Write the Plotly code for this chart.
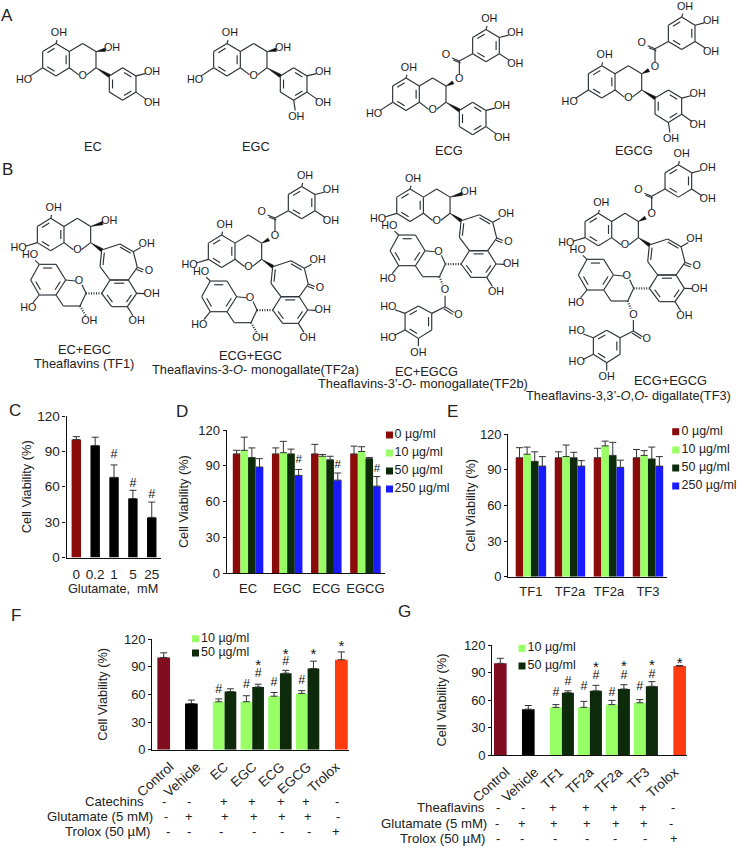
import plotly.graph_objects as go

W, H = 738, 847
FONT = "Liberation Sans, Arial, sans-serif"
INK = "#222222"
RED, LIGHT, DARK, BLUE = "#8b0a0a", "#99ff66", "#0d2b0a", "#1a1aff"
MAROON, ORANGE = "#800d20", "#ff3b0f"

# ---------- data ----------
C_LABELS = ["0", "0.2", "1", "5", "25"]
C_VALUES = [100, 95, 68, 50, 34]
C_ERR = [2.5, 7, 10.5, 7, 13]
C_MARK_X = [2, 3, 4]
C_MARK_Y = [87, 62.3, 53]

CONC = ["0 µg/ml", "10 µg/ml", "50 µg/ml", "250 µg/ml"]
D_LABELS = ["EC", "EGC", "ECG", "EGCG"]
D_VALUES = [[100, 100, 100, 100], [103, 101, 98, 102], [97, 100, 95, 96], [89, 82, 78, 73]]
D_ERR = [[3, 5, 8, 6.5], [11, 9.5, 1.5, 4], [8, 4, 3, 1], [7, 5, 6, 8]]
D_MARK_GROUP = [1, 2, 3]
D_MARK_Y = [95, 90.5, 87.4]

E_LABELS = ["TF1", "TF2a", "TF2a", "TF3"]
E_VALUES = [[100, 100, 100, 100], [103, 101, 110, 102], [97, 100, 102, 99], [93, 93, 92, 93]]
E_ERR = [[8.5, 5, 8, 7], [6, 9.7, 4, 4], [8, 4.6, 11, 10], [8, 4.6, 6, 8]]

F_LABELS = ["Control", "Vehicle", "EC", "EGC", "ECG", "EGCG", "Trolox"]
F_SLOTS = [0, 1, 2.2, 3.2, 4.2, 5.2, 6.42]
F_LABEL_SLOTS = [0.23, 1.2, 2.2, 3.23, 4.23, 5.2, 6.23]
F_SINGLE = [100, 50, 97.5]
F_SINGLE_ERR = [5, 3.8, 8.5]
F_10 = [52, 52, 58, 61]
F_10_ERR = [3, 6.5, 4, 3]
F_50 = [63, 68, 83, 88]
F_50_ERR = [3, 3, 3, 8]

G_LABELS = ["Control", "Vehicle", "TF1", "TF2a", "TF2a", "TF3", "Trolox"]
G_SLOTS = [0, 1, 2.2, 3.2, 4.2, 5.2, 6.407]
G_LABEL_SLOTS = [0.2, 1.23, 2.12, 3.2, 4.23, 5.2, 6.23]
G_SINGLE = [100, 50, 97]
G_SINGLE_ERR = [5.5, 4, 0.5]
G_10 = [52, 52, 55, 57]
G_10_ERR = [3, 6.5, 4.6, 3.4]
G_50 = [68, 70, 72, 75]
G_50_ERR = [2, 6, 4.7, 5]

F_ROWS = ["Catechins", "Glutamate (5 mM)", "Trolox (50 µM)"]
G_ROWS = ["Theaflavins", "Glutamate (5 mM)", "Trolox (50 µM)"]
SIGNS = [list("--++++-"), list("-+++++-"), list("------+")]

fig = go.Figure()
layout_axes = {}


def panel(n, left, right, top, bottom, xrange, tickvals, ticktext, title, tickangle=0, ticklen=3,
          standoff=4, ysize=13, xsize=13):
    sfx = "" if n == 1 else str(n)
    layout_axes["xaxis" + sfx] = dict(
        domain=[left / W, right / W], range=xrange, anchor="y" + sfx, showgrid=False, zeroline=False,
        showline=True, linecolor="#111111", linewidth=1.2, tickvals=tickvals, ticktext=ticktext,
        tickangle=tickangle, ticks="outside", ticklen=ticklen, tickcolor="rgba(0,0,0,0)", automargin=False,
        tickfont=dict(size=xsize, family=FONT, color=INK))
    layout_axes["yaxis" + sfx] = dict(
        domain=[1 - bottom / H, 1 - top / H], range=[0, 120], anchor="x" + sfx, showgrid=False,
        zeroline=False, showline=True, linecolor="#111111", linewidth=1.2, tickvals=[0, 30, 60, 90, 120],
        ticks="outside", ticklen=3, tickcolor="#111111", tickfont=dict(size=ysize, family=FONT, color=INK),
        automargin=False, title=dict(text=title, font=dict(size=12.8, family=FONT, color=INK), standoff=standoff))
    return ("x" + sfx, "y" + sfx)


def bars(ax, x, y, err, width, color):
    fig.add_trace(go.Bar(
        x=x, y=y, width=width, marker=dict(color=color, line=dict(width=0)), xaxis=ax[0], yaxis=ax[1],
        error_y=dict(type="data", symmetric=False, array=err, arrayminus=[0] * len(y),
                     color="#333333", thickness=1, width=3.5),
        showlegend=False, hoverinfo="skip"))


def marks(ax, x, y, text, size=12.5):
    fig.add_trace(go.Scatter(
        x=x, y=y, mode="text", text=[text] * len(x), textposition="middle center",
        textfont=dict(size=size, family=FONT, color="#111111"), xaxis=ax[0], yaxis=ax[1],
        showlegend=False, hoverinfo="skip", cliponaxis=False))


# Panel C
axC = panel(1, 66.5, 161, 416, 557.5, [-0.52, 4.49], list(range(5)), C_LABELS, "Cell Viability (%)",
            ticklen=4, standoff=2, ysize=13.5, xsize=13.5)
bars(axC, list(range(5)), C_VALUES, C_ERR, 0.5, [RED, "#000000", "#000000", "#000000", "#000000"])
marks(axC, C_MARK_X, C_MARK_Y, "#")

# Panel D, E
COLORS4 = [RED, LIGHT, DARK, BLUE]
W4 = 0.195
axD = panel(2, 226.7, 385, 430, 573.3, [-0.546, 3.5], list(range(4)), D_LABELS, "Cell Viability (%)", standoff=6)
for j in range(4):
    bars(axD, [i + (j - 1.5) * W4 for i in range(4)], D_VALUES[j], D_ERR[j], W4, COLORS4[j])
marks(axD, [g + 1.5 * W4 for g in D_MARK_GROUP], D_MARK_Y, "#", 11.5)

axE = panel(3, 508.3, 666.7, 434, 576.7, [-0.58, 3.48], list(range(4)), E_LABELS, "Cell Viability (%)", standoff=1)
for j in range(4):
    bars(axE, [i + (j - 1.5) * W4 for i in range(4)], E_VALUES[j], E_ERR[j], W4, COLORS4[j])


def treatment(ax, slots, single, single_err, v10, e10, v50, e50, w2, w1, hash_pts, star_pts):
    singles = [slots[0], slots[1], slots[6]]
    bars(ax, singles, single, single_err, w1, [MAROON, "#000000", ORANGE])
    bars(ax, [s - w2 / 2 for s in slots[2:6]], v10, e10, w2, LIGHT)
    bars(ax, [s + w2 / 2 for s in slots[2:6]], v50, e50, w2, DARK)
    marks(ax, hash_pts[0], hash_pts[1], "#")
    marks(ax, star_pts[0], star_pts[1], "*", 15)


axF = panel(4, 152.3, 349.3, 639, 749.7, [-0.412, 6.707], F_LABEL_SLOTS, F_LABELS, "Cell Viability (%)",
            tickangle=-42, ticklen=3, standoff=13, xsize=13.5)
W2F = 0.423
F_HASH_X = [2.2 - W2F / 2, 3.2 - W2F / 2, 4.2 - W2F / 2, 5.2 - W2F / 2, 3.2 + W2F / 2, 4.2 + W2F / 2]
F_HASH_Y = [64.7, 70.8, 72.6, 74.8, 81.7, 95.4]
F_STAR_X = [3.2 + W2F / 2, 4.2 + W2F / 2, 5.2 + W2F / 2, 6.42]
F_STAR_Y = [90.5, 102.5, 102.5, 111]
treatment(axF, F_SLOTS, F_SINGLE, F_SINGLE_ERR, F_10, F_10_ERR, F_50, F_50_ERR, W2F, 0.459,
          (F_HASH_X, F_HASH_Y), (F_STAR_X, F_STAR_Y))

axG = panel(5, 492.3, 687.3, 645, 755, [-0.286, 6.68], G_LABEL_SLOTS, G_LABELS, "Cell Viability (%)",
            tickangle=-42, ticklen=3, standoff=14, xsize=13.5)
W2G = 0.43
G_HASH_X = [2.2 - W2G / 2, 2.2 + W2G / 2, 3.2 - W2G / 2, 3.2 + W2G / 2, 4.2 - W2G / 2, 4.2 + W2G / 2,
            5.2 - W2G / 2, 5.2 + W2G / 2]
G_HASH_Y = [67.3, 79.3, 74.5, 86.2, 67.3, 86.2, 74, 87.3]
G_STAR_X = [3.2 + W2G / 2, 4.2 + W2G / 2, 5.2 + W2G / 2, 6.407]
G_STAR_Y = [95, 95.5, 96.5, 99.5]
treatment(axG, G_SLOTS, G_SINGLE, G_SINGLE_ERR, G_10, G_10_ERR, G_50, G_50_ERR, W2G, 0.452,
          (G_HASH_X, G_HASH_Y), (G_STAR_X, G_STAR_Y))

# ---------- page layer for structures, legends, captions ----------
layout_axes["xaxis9"] = dict(domain=[0, 1], range=[0, W], anchor="y9", visible=False, fixedrange=True)
layout_axes["yaxis9"] = dict(domain=[0, 1], range=[H, 0], anchor="x9", visible=False, fixedrange=True)

bx, by, wx, wy, hx, hy = [], [], [], [], [], []
atom_x, atom_y, atom_t = [], [], []
DX, DY = 13.33, 8.1


def seg(a, b):
    bx.extend([a[0], b[0], None])
    by.extend([a[1], b[1], None])


def trimmed(a, b, t=7.0):
    d = ((b[0] - a[0]) ** 2 + (b[1] - a[1]) ** 2) ** 0.5
    f = max(0, (d - t) / d)
    return (a[0], a[1]), (a[0] + (b[0] - a[0]) * f, a[1] + (b[1] - a[1]) * f)


def sub(a, b, text, kind="plain"):
    p, q = trimmed(a, b)
    atom_x.append(b[0])
    atom_y.append(b[1])
    atom_t.append(text)
    if kind == "plain":
        seg(p, q)
    elif kind == "wedge":
        wedge(p, q)
    else:
        hx.extend([p[0], q[0], None])
        hy.extend([p[1], q[1], None])


def wedge(a, b, w=1.7):
    d = ((b[0] - a[0]) ** 2 + (b[1] - a[1]) ** 2) ** 0.5
    nx, ny = -(b[1] - a[1]) / d * w, (b[0] - a[0]) / d * w
    wx.extend([a[0], b[0] + nx, b[0] - nx, a[0], None])
    wy.extend([a[1], b[1] + ny, b[1] - ny, a[1], None])


def ring(nodes, doubles=()):
    cx = sum(p[0] for p in nodes) / len(nodes)
    cy = sum(p[1] for p in nodes) / len(nodes)
    for i, p in enumerate(nodes):
        q = nodes[(i + 1) % len(nodes)]
        seg(p, q)
        if i in doubles:
            k = 0.76
            p2 = (cx + (p[0] - cx) * k, cy + (p[1] - cy) * k)
            q2 = (cx + (q[0] - cx) * k, cy + (q[1] - cy) * k)
            t = 0.14
            seg((p2[0] + (q2[0] - p2[0]) * t, p2[1] + (q2[1] - p2[1]) * t),
                (q2[0] - (q2[0] - p2[0]) * t, q2[1] - (q2[1] - p2[1]) * t))


def gallate_up(L):
    """ester + galloyl ring going up-right from the 3-O of a lattice-placed flavan"""
    o = L(4, 0.15)
    sub(L(3, 1), o, "O", "wedge")
    c = L(4, -2.1)
    seg((o[0], o[1] - 5), c)
    p, q = trimmed(c, L(3.1, -2.7), 5)
    seg(p, q)
    seg((p[0] + 1.3, p[1] + 2), (q[0] + 1.3, q[1] + 2))
    atom_x.append(L(3.0, -2.8)[0]); atom_y.append(L(3.0, -2.8)[1]); atom_t.append("O")
    r = [L(5, -3), L(6, -2), L(7, -3), L(7, -5), L(6, -6), L(5, -5)]
    seg(c, r[0])
    ring(r, (0, 2, 4))
    sub(r[4], L(6.25, -7.25), "OH")
    sub(r[3], L(8.2, -5.5), "OH")
    sub(r[2], L(8.2, -1.7), "OH")


def flavan_core(ox, oy, ho_v=4.5):
    L = lambda u, v: (ox + u * DX, oy + v * DY)
    ring([L(0, 0), L(1, 1), L(1, 3), L(0, 4), L(-1, 3), L(-1, 1)], (1, 3, 5))
    o = L(2, 4)
    seg(L(1, 1), L(2, 0)); seg(L(2, 0), L(3, 1)); seg(L(3, 1), L(3, 3))
    seg(L(3, 3), (o[0] + 4, o[1] - 1)); seg(L(1, 3), (o[0] - 4, o[1] - 1))
    atom_x.append(o[0]); atom_y.append(o[1]); atom_t.append("O")
    sub(L(0, 0), L(0.22, -1.25), "OH")
    sub(L(-1, 3), L(-2.4, ho_v), "HO")
    return L


def catechin(ox, oy, gallo, gal):
    L = flavan_core(ox, oy)
    if gal:
        gallate_up(L)
    else:
        sub(L(3, 1), L(4.2, 0.6), "OH", "wedge")
    wedge(L(3, 3), L(4, 4))
    ring([L(4, 4), L(5, 3), L(6, 4), L(6, 6), L(5, 7), L(4, 6)], (1, 3, 5))
    sub(L(6, 4), L(7.2, 3.5), "OH")
    sub(L(6, 6), L(7.2, 7.4), "OH")
    if gallo:
        sub(L(5, 7), L(5.2, 9.1), "OH")


def theaflavin(dx, dy, upper, lower):
    Z = lambda x, y: (dx + x / 3, dy + 170 + y / 3)
    L = flavan_core(*Z(152, 145), ho_v=3.7)
    if upper:
        gallate_up(L)
    else:
        sub(L(3, 1), L(4.4, 0.35), "OH", "wedge")
    # tropolone ring and its fused benzene ring
    t = [Z(305, 240), Z(360, 222), Z(400, 245), Z(412, 292), Z(385, 330), Z(330, 330), Z(300, 290)]
    wedge(L(3, 3), t[0])
    for i in range(7):
        seg(t[i], t[(i + 1) % 7])
    seg(Z(360, 231), Z(392, 250))
    seg(Z(313, 248), Z(309, 285))
    sub(t[2], Z(440, 222), "OH")
    p, q = trimmed(t[3], Z(445, 305), 5)
    seg(p, q); seg((p[0] - 0.8, p[1] + 2.2), (q[0] - 0.8, q[1] + 2.2))
    atom_x.append(Z(447, 305)[0]); atom_y.append(Z(447, 305)[1]); atom_t.append("O")
    b = [Z(330, 330), Z(385, 330), Z(410, 370), Z(382, 410), Z(335, 410), Z(305, 370)]
    ring(b, (0, 2, 4))
    sub(b[2], Z(455, 372), "OH")
    sub(b[3], Z(410, 455), "OH")
    # lower flavan
    a = [Z(118, 283), Z(168, 283), Z(197, 330), Z(168, 375), Z(118, 375), Z(92, 330)]
    ring(a, (0, 2, 4))
    sub(a[0], Z(90, 257), "HO")
    sub(a[4], Z(85, 415), "HO")
    o = Z(237, 335)
    atom_x.append(o[0]); atom_y.append(o[1]); atom_t.append("O")
    seg(a[2], Z(226, 333))
    c2, c3, c4 = Z(258, 370), Z(240, 408), Z(190, 408)
    seg(Z(246, 344), c2); seg(c2, c3); seg(c3, c4); seg(c4, a[3])
    hx.extend([c2[0], b[5][0], None]); hy.extend([c2[1], b[5][1], None])
    if lower:
        ox_ = Z(257, 450)
        sub(c3, ox_, "O", "hash")
        est = Z(257, 498)
        seg((ox_[0], ox_[1] + 5), est)
        p, q = trimmed(est, Z(297, 523), 5)
        seg(p, q); seg((p[0] - 1.3, p[1] + 2), (q[0] - 1.3, q[1] + 2))
        atom_x.append(Z(297, 523)[0]); atom_y.append(Z(297, 523)[1]); atom_t.append("O")
        r = [Z(217, 518), Z(217, 568), Z(177, 593), Z(137, 568), Z(137, 518), Z(177, 496)]
        seg(est, r[0])
        ring(r, (0, 2, 4))
        sub(r[2], Z(177, 638), "OH")
        sub(r[3], Z(87, 593), "HO")
        sub(r[4], Z(87, 500), "HO")
    else:
        sub(c3, Z(268, 455), "OH", "hash")


catechin(56, 43.5, False, False)
catechin(227, 43.5, True, False)
catechin(406, 78, False, True)
catechin(601.7, 65.7, True, True)
theaflavin(0, 0, False, False)
theaflavin(171, 16.7, True, False)
theaflavin(359.4, -29.3, False, True)
theaflavin(547.7, -5, True, True)

fig.add_trace(go.Scatter(x=bx, y=by, mode="lines", line=dict(color="#2b3238", width=1.15), xaxis="x9", yaxis="y9",
                         showlegend=False, hoverinfo="skip"))
fig.add_trace(go.Scatter(x=hx, y=hy, mode="lines", line=dict(color="#2b3238", width=2.2, dash="1px,1.5px"),
                         xaxis="x9", yaxis="y9", showlegend=False, hoverinfo="skip"))
fig.add_trace(go.Scatter(x=wx, y=wy, mode="lines", fill="toself", fillcolor="#111111", line=dict(color="#111111", width=0.5),
                         xaxis="x9", yaxis="y9", showlegend=False, hoverinfo="skip"))
fig.add_trace(go.Scatter(x=atom_x, y=atom_y, mode="text", text=atom_t, textposition="middle center",
                         textfont=dict(size=10.8, family=FONT, color="#1c1c1c"), xaxis="x9", yaxis="y9",
                         showlegend=False, hoverinfo="skip", cliponaxis=False))


# legends
def legend(xs, ys, text_x, colors, labels):
    fig.add_trace(go.Scatter(x=xs, y=ys, mode="markers", marker=dict(symbol="square", size=7, color=colors, line=dict(width=0)),
                             xaxis="x9", yaxis="y9", showlegend=False, hoverinfo="skip"))
    fig.add_trace(go.Scatter(x=[text_x] * len(ys), y=ys, mode="text", text=labels, textposition="middle right",
                             textfont=dict(size=12.5, family=FONT, color=INK), xaxis="x9", yaxis="y9",
                             showlegend=False, hoverinfo="skip", cliponaxis=False))


legend([389.5] * 4, [435, 453, 471, 489], 394.5, COLORS4, CONC)
legend([675.7] * 4, [431.7, 450, 468, 486], 681.5, COLORS4, CONC)
legend([195.5] * 2, [638.7, 653], 201, [LIGHT, DARK], CONC[1:3])
legend([522] * 2, [648.3, 666], 527.5, [LIGHT, DARK], CONC[1:3])

ann = []


def text(x, y, s, size=12.7, anchor="center", family=FONT):
    ann.append(dict(x=x / W, y=1 - y / H, xref="paper", yref="paper", text=s, showarrow=False, xanchor=anchor,
                    yanchor="middle", font=dict(size=size, family=family, color=INK), borderpad=0, borderwidth=0))


for s, x, y in [("A", 7, 15), ("B", 7, 170), ("C", 14.7, 410.7), ("D", 181.7, 411), ("E", 453, 411.7), ("G", 404, 611)]:
    text(x, y, s, 17)
text(15.7, 615, "F", 17, family="Liberation Sans Narrow, " + FONT)

for s, x, y in [("EC", 93, 147), ("EGC", 256, 147), ("ECG", 449, 150), ("EGCG", 634, 150),
                ("EC+EGC", 84, 349), ("Theaflavins (TF1)", 84, 363.3),
                ("ECG+EGC", 250.7, 355), ("Theaflavins-3-<i>O</i>- monogallate(TF2a)", 255, 369.3),
                ("EC+EGCG", 426.7, 371), ("Theaflavins-3’-<i>O</i>- monogallate(TF2b)", 423, 384),
                ("ECG+EGCG", 670, 380.7), ("Theaflavins-3,3’-<i>O</i>,<i>O</i>- digallate(TF3)", 628, 395)]:
    text(x, y, s, 12.8)
text(112.7, 589, "Glutamate,  mM", 12.7)

F_ROW_RIGHT = [144, 152.7, 150.7]
F_ROW_Y = [801.7, 816.7, 831]
F_SIGN_X = [[492, 568, 671, 757, 843, 919, 1012], [498, 568, 675, 761, 847, 923, 1015], [505, 568, 664, 762, 847, 927, 1009]]
G_ROW_RIGHT = [485, 487.3, 485.7]
G_ROW_Y = [807, 823, 838.7]
G_SIGN_X = [[385, 460, 550, 648, 733, 820, 910], [380, 457, 552, 650, 737, 823, 904], [385, 457, 555, 650, 735, 825, 911]]
for r in range(3):
    text(F_ROW_RIGHT[r], F_ROW_Y[r], F_ROWS[r], 13.2, "right")
    text(G_ROW_RIGHT[r], G_ROW_Y[r], G_ROWS[r], 13.2, "right")
    for i in range(7):
        text(F_SIGN_X[r][i] / 3, F_ROW_Y[r], SIGNS[r][i], 13)
        text(370 + G_SIGN_X[r][i] / 3, G_ROW_Y[r], SIGNS[r][i], 13)

fig.update_layout(width=W, height=H, margin=dict(l=0, r=0, t=0, b=0, autoexpand=False), paper_bgcolor="white",
                  plot_bgcolor="rgba(0,0,0,0)",
                  barmode="overlay", showlegend=False, annotations=ann, font=dict(family=FONT), **layout_axes)
fig.write_html("out.html", config=dict(displayModeBar=False), post_script="document.body.style.margin='0';")
